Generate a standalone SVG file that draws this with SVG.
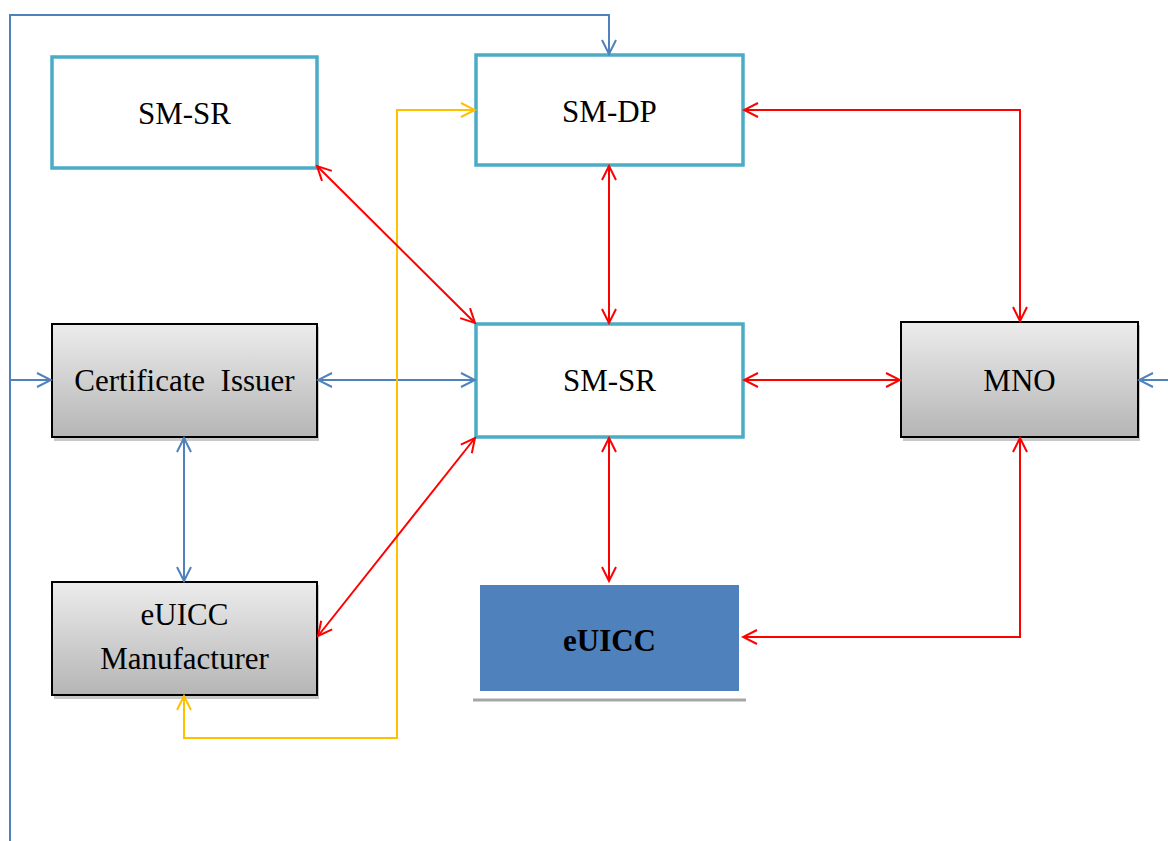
<svg xmlns="http://www.w3.org/2000/svg" width="1168" height="841" viewBox="0 0 1168 841">
<style>
.teal{fill:#fff;stroke:#4BACC6;stroke-width:3.5}
.gray{fill:url(#g);stroke:#000;stroke-width:2}
.sh{fill:#c8c8c8}
.t{font-family:"Liberation Serif","Times New Roman",serif;font-size:31px;fill:#000;text-anchor:middle;dominant-baseline:central}
.b{stroke:#4F81BD;stroke-width:2;fill:none}
.r{stroke:#FF0000;stroke-width:2;fill:none}
.y{stroke:#FFC000;stroke-width:2;fill:none}
</style>
<defs>
<linearGradient id="g" x1="0" y1="0" x2="0" y2="1">
<stop offset="0" stop-color="#ECECEC"/>
<stop offset="1" stop-color="#B5B5B5"/>
</linearGradient>
<marker id="ab" markerUnits="userSpaceOnUse" markerWidth="18" markerHeight="18" viewBox="0 0 18 18" refX="16" refY="9" orient="auto-start-reverse"><path d="M2,2 L16,9 L2,16" fill="none" stroke="#4F81BD" stroke-width="2"/></marker>
<marker id="ar" markerUnits="userSpaceOnUse" markerWidth="18" markerHeight="18" viewBox="0 0 18 18" refX="16" refY="9" orient="auto-start-reverse"><path d="M2,2 L16,9 L2,16" fill="none" stroke="#FF0000" stroke-width="2"/></marker>
<marker id="ay" markerUnits="userSpaceOnUse" markerWidth="18" markerHeight="18" viewBox="0 0 18 18" refX="16" refY="9" orient="auto-start-reverse"><path d="M2,2 L16,9 L2,16" fill="none" stroke="#FFC000" stroke-width="2"/></marker>
</defs>
<rect width="1168" height="841" fill="#fff"/>
<g id="smsr-top"><rect class="teal" x="52" y="57" width="265" height="111"/><text class="t" x="184.5" y="113">SM-SR</text></g>
<g id="smdp"><rect class="teal" x="476" y="55" width="267" height="110"/><text class="t" x="609.5" y="111">SM-DP</text></g>
<g id="smsr"><rect class="teal" x="476" y="324" width="267" height="113"/><text class="t" x="609.5" y="380">SM-SR</text></g>
<g id="cert"><rect class="sh" x="54" y="327" width="265" height="114"/><rect class="gray" x="52" y="324" width="265" height="113"/><text class="t" x="184.5" y="380" xml:space="preserve">Certificate  Issuer</text></g>
<g id="mfr"><rect class="sh" x="54" y="585" width="265" height="114"/><rect class="gray" x="52" y="582" width="265" height="113"/><text class="t" x="184.5" y="614">eUICC</text><text class="t" x="184.5" y="658">Manufacturer</text></g>
<g id="mno"><rect class="sh" x="903" y="325" width="237" height="116"/><rect class="gray" x="901" y="322" width="237" height="115"/><text class="t" x="1019.5" y="380">MNO</text></g>
<g id="euicc"><rect x="480" y="585" width="259" height="106" fill="#4F81BD"/><line x1="473" y1="700" x2="746" y2="700" stroke="#A6A6A6" stroke-width="3"/><text class="t" x="609.5" y="640" font-weight="bold">eUICC</text></g>
<g id="connectors">
<path class="b" d="M10,841 V15 H609 V54" marker-end="url(#ab)"/>
<path class="b" d="M10,380 H51" marker-end="url(#ab)"/>
<path class="b" d="M1168,380 H1139" marker-end="url(#ab)"/>
<path class="b" d="M318,380 H475" marker-start="url(#ab)" marker-end="url(#ab)"/>
<path class="b" d="M184,438 V581" marker-start="url(#ab)" marker-end="url(#ab)"/>
<path class="y" d="M184,696 V738 H397 V110 H475" marker-start="url(#ay)" marker-end="url(#ay)"/>
<path class="r" d="M317,166 L475,323" marker-start="url(#ar)" marker-end="url(#ar)"/>
<path class="r" d="M609,166 V323" marker-start="url(#ar)" marker-end="url(#ar)"/>
<path class="r" d="M744,110 H1020 V321" marker-start="url(#ar)" marker-end="url(#ar)"/>
<path class="r" d="M744,380 H900" marker-start="url(#ar)" marker-end="url(#ar)"/>
<path class="r" d="M609,438 V581" marker-start="url(#ar)" marker-end="url(#ar)"/>
<path class="r" d="M475,438 L318,636" marker-start="url(#ar)" marker-end="url(#ar)"/>
<path class="r" d="M1020,438 V637 H743" marker-start="url(#ar)" marker-end="url(#ar)"/>
</g>
</svg>
